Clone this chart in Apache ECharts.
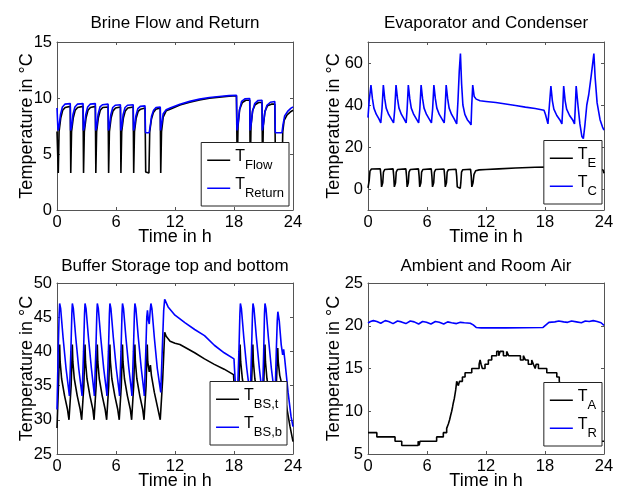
<!DOCTYPE html>
<html><head><meta charset="utf-8">
<script src="https://cdn.jsdelivr.net/npm/echarts@6/dist/echarts.min.js"></script>
<style>html,body{margin:0;padding:0;background:#fff}#c{width:617px;height:492px}</style>
</head><body><div id="c"></div>
<script>
// ---------------- DATA ----------------
const timeTicks = [0, 6, 12, 18, 24];
const plotTitles = ['Brine Flow and Return', 'Evaporator and Condenser', 'Buffer Storage top and bottom', 'Ambient and Room Air'];
const xLabel = 'Time in h';
const yLabel = 'Temperature in °C';
const legendNames = [['Flow', 'Return'], ['E', 'C'], ['BS,t', 'BS,b'], ['A', 'R']];
const condenserTickLabels = [0, 20, 40, 60];

// Brine flow (black) [time h, °C]
const brineFlow = [[0,7.0],[0.13,3.3],[0.21,7.0],[0.38,8.2],[0.58,8.9],[0.83,9.15],[1.35,9.25],
[1.4,3.3],[1.48,7.0],[1.65,8.2],[1.85,8.9],[2.1,9.15],[2.65,9.25],
[2.7,3.3],[2.78,7.0],[2.95,8.2],[3.15,8.9],[3.4,9.15],[3.9,9.25],
[3.95,3.3],[4.03,7.0],[4.2,8.2],[4.4,8.9],[4.65,9.15],[5.2,9.2],
[5.25,3.3],[5.33,7.0],[5.5,8.2],[5.7,8.85],[5.95,9.1],[6.45,9.2],
[6.5,3.3],[6.58,7.0],[6.75,8.2],[6.95,8.85],[7.2,9.1],[7.75,9.2],
[7.8,3.3],[7.88,7.0],[8.05,8.2],[8.25,8.8],[8.5,9.0],[8.95,9.1],
[9.02,3.4],[9.35,3.3],[9.43,7.0],[9.6,8.1],[9.8,8.7],[10.05,9.0],[10.5,9.1],
[10.55,3.3],[10.63,7.0],[10.8,8.3],[11.1,8.85],[11.5,9.0],[12.5,9.38],[13.5,9.63],[14.5,9.83],[15.5,9.98],[16.5,10.08],[17.5,10.15],[18.25,10.2],
[18.33,3.5],[18.41,7.5],[18.58,9.0],[18.85,9.6],[19.2,9.8],[19.6,9.8],
[19.65,3.5],[19.73,7.5],[19.9,8.9],[20.15,9.4],[20.5,9.6],[20.85,9.6],
[20.9,3.5],[20.98,7.5],[21.15,8.8],[21.4,9.3],[21.8,9.45],[22.15,9.45],
[22.22,3.5],[22.88,3.4],[22.96,7.0],[23.1,8.0],[23.4,8.5],[23.8,8.8],[24,8.9]];

// Brine return (blue)
const brineReturn = [[0,9.1],[0.1,7.1],[0.2,7.4],[0.35,8.5],[0.55,9.2],[0.8,9.45],[1.35,9.5],
[1.38,7.1],[1.48,7.4],[1.62,8.5],[1.82,9.2],[2.07,9.45],[2.65,9.5],
[2.68,7.1],[2.78,7.4],[2.92,8.5],[3.12,9.2],[3.37,9.45],[3.9,9.5],
[3.93,7.1],[4.03,7.4],[4.17,8.5],[4.37,9.2],[4.62,9.4],[5.2,9.45],
[5.23,7.1],[5.33,7.4],[5.47,8.5],[5.67,9.15],[5.92,9.35],[6.45,9.4],
[6.48,7.1],[6.58,7.4],[6.72,8.5],[6.92,9.15],[7.17,9.35],[7.75,9.4],
[7.78,7.1],[7.88,7.4],[8.02,8.4],[8.22,9.05],[8.47,9.25],[8.95,9.3],
[9.0,6.9],[9.38,6.9],[9.48,7.5],[9.62,8.4],[9.82,8.9],[10.07,9.15],[10.5,9.2],
[10.53,7.1],[10.63,7.6],[10.8,8.6],[11.1,8.95],[11.5,9.1],[12.5,9.45],[13.5,9.7],[14.5,9.9],[15.5,10.04],[16.5,10.14],[17.5,10.21],[18.25,10.25],
[18.3,7.1],[18.4,7.6],[18.55,8.9],[18.77,9.7],[19.1,9.92],[19.6,9.95],
[19.63,7.1],[19.73,7.6],[19.88,8.8],[20.1,9.5],[20.45,9.78],[20.85,9.8],
[20.88,7.1],[20.98,7.6],[21.13,8.7],[21.35,9.35],[21.7,9.62],[22.15,9.68],
[22.2,6.9],[22.88,6.9],[22.98,7.6],[23.15,8.4],[23.45,8.8],[23.8,9.1],[24,9.2]];

// Evaporator (black)
const evaporator = [[0,0.5],[0.05,0.3],[0.12,4],[0.2,8.5],[0.35,9.5],[1.25,9.6],
[1.32,6],[1.38,1],[1.45,0.3],[1.5,3],[1.57,8],[1.7,9.3],[2.55,9.6],
[2.62,6],[2.68,1],[2.75,0.3],[2.8,3],[2.87,8],[3.0,9.3],[3.85,9.6],
[3.92,6],[3.98,1],[4.05,0.3],[4.1,3],[4.17,8],[4.3,9.3],[5.13,9.6],
[5.2,6],[5.26,1],[5.33,0.3],[5.38,3],[5.45,8],[5.58,9.3],[6.43,9.6],
[6.5,6],[6.56,1],[6.63,0.3],[6.68,3],[6.75,8],[6.88,9.3],[7.73,9.5],
[7.8,6],[7.86,1],[7.93,0.3],[7.98,3],[8.05,8],[8.18,9.2],[8.95,9.4],
[9.02,6],[9.08,1],[9.15,0.3],[9.38,0.3],[9.44,3],[9.51,8],[9.64,9.2],[10.43,9.4],
[10.5,6],[10.56,1],[10.63,0.3],[10.68,3],[10.78,7],[10.95,8.7],[11.3,9.1],[12,9.3],[13.3,9.6],[15,10.0],[17,10.35],[18.2,10.5],
[18.3,6],[18.37,0.5],[18.45,0.3],[18.55,6],[18.7,9.3],[19.5,9.6],
[19.6,6],[19.67,0.5],[19.75,0.3],[19.85,6],[20.0,9.3],[20.8,9.5],
[20.85,6],[20.92,0.5],[21.0,0.3],[21.1,6],[21.25,9.2],[22.1,9.4],
[22.18,6],[22.25,0.3],[22.85,0.3],[22.95,6],[23.1,9],[23.6,9.4],[23.9,9.0],[24,7.5]];

// Condenser (blue)
const condenser = [[0,34],[0.12,42],[0.3,49.5],[0.45,43],[0.6,38.5],[0.85,35.5],[1.1,33.5],[1.3,31.5],
[1.42,38],[1.56,49.5],[1.7,43],[1.85,38.5],[2.1,35.5],[2.35,33.5],[2.6,31.5],
[2.72,38],[2.85,49.5],[3.0,43],[3.15,38.5],[3.4,35.5],[3.65,33.5],[3.88,31.5],
[3.98,38],[4.1,49.5],[4.25,43],[4.4,38.5],[4.65,35.5],[4.9,33.5],[5.15,31.5],
[5.27,38],[5.4,49.5],[5.55,43],[5.7,38.5],[5.95,35.5],[6.2,33.5],[6.45,31.5],
[6.57,38],[6.7,49.5],[6.85,43],[7.0,38.5],[7.25,35.5],[7.5,33.5],[7.75,31.5],
[7.84,38],[7.95,49.5],[8.1,43],[8.25,38.5],[8.5,35.5],[8.75,33.5],[9.02,31],
[9.15,42],[9.28,56],[9.4,64.5],[9.52,50],[9.65,40],[9.85,35.5],[10.1,33],[10.35,31.5],[10.48,30.5],
[10.55,40],[10.65,49.5],[10.8,44],[11.0,42.8],[11.4,42],[12,41.7],[13,41.2],[14,40.5],[15,39.8],[16,39],[17,38.3],[17.9,37.5],
[18.05,35.5],[18.3,31],[18.45,40],[18.6,49],[18.75,42],[18.9,38],[19.2,35],[19.5,33],[19.72,31],
[19.8,38],[19.9,49],[20.05,42],[20.2,38],[20.5,35],[20.8,33],[21.0,31],
[21.07,38],[21.17,49],[21.35,40],[21.55,31],[21.75,25],[21.9,24],[22.05,30],[22.25,40],[22.45,45],[22.7,54],[22.97,64.5],[23.1,53],[23.3,41],[23.6,33],[23.85,29.5],[24,28]];

// Buffer storage top (black)
const bufferTop = [[0,28.8],[0.15,35],[0.27,41],[0.32,38.5],[0.47,36],[0.77,33.5],[1.07,31.5],[1.22,30],
[1.26,30],[1.44,35],[1.56,41],[1.61,38.5],[1.76,36],[2.06,33.5],[2.36,31.5],[2.51,30],
[2.55,30],[2.73,35],[2.85,41],[2.9,38.5],[3.05,36],[3.35,33.5],[3.65,31.5],[3.77,30],
[3.8,30],[3.98,35],[4.1,41],[4.15,38.5],[4.3,36],[4.6,33.5],[4.9,31.5],[5.05,30],
[5.08,30],[5.26,35],[5.38,41],[5.43,38.5],[5.58,36],[5.88,33.5],[6.18,31.5],[6.33,30],
[6.36,30],[6.54,35],[6.66,41],[6.71,38.5],[6.86,36],[7.16,33.5],[7.46,31.5],[7.59,30],
[7.62,30],[7.8,35],[7.92,41],[7.97,38.5],[8.12,36],[8.42,33.5],[8.72,31.5],[8.85,30],
[8.88,30],[9.06,35],[9.18,41],[9.23,38.5],[9.38,37],[9.5,38],[9.6,36.5],[9.9,34],[10.2,32],[10.5,30],[10.6,30],
[10.75,36],[10.95,42.8],[11.1,42.2],[11.5,41.5],[12,41.2],[12.5,41.0],[13,40.6],[14,39.8],[15,38.9],[16,38.1],[17,37.4],[17.95,36.6],
[18.1,33],[18.35,30.5],[18.5,35],[18.62,41],[18.68,38.5],[18.85,36],[19.15,33.5],[19.45,31.5],[19.63,30],
[19.78,35],[19.92,41],[19.97,38.5],[20.12,36],[20.42,33.5],[20.72,31.5],[20.88,30],
[21.02,35],[21.15,41],[21.2,38.5],[21.35,36],[21.65,33.5],[21.95,31.5],[22.15,30],
[22.3,35],[22.45,40.5],[22.5,38.5],[22.65,36.5],[22.9,35],[23.1,34],[23.4,31.5],[23.7,29],[24,26.8]];

// Buffer storage bottom (blue)
const bufferBottom = [[0,31.5],[0.12,40],[0.22,45.5],[0.27,47],[0.37,46.3],[0.62,42],[0.92,37.5],[1.22,34],
[1.26,33.5],[1.41,40],[1.51,45.5],[1.56,47],[1.66,46.3],[1.91,42],[2.21,37.5],[2.51,34],
[2.55,33.5],[2.7,40],[2.8,45.5],[2.85,47],[2.95,46.3],[3.2,42],[3.5,37.5],[3.77,34],
[3.8,33.5],[3.95,40],[4.05,45.5],[4.1,47],[4.2,46.3],[4.45,42],[4.75,37.5],[5.05,34],
[5.08,33.5],[5.23,40],[5.33,45.5],[5.38,47],[5.48,46.3],[5.73,42],[6.03,37.5],[6.33,34],
[6.36,33.5],[6.51,40],[6.61,45.5],[6.66,47],[6.76,46.3],[7.01,42],[7.31,37.5],[7.59,34],
[7.62,33.5],[7.77,40],[7.87,45.5],[7.92,47],[8.02,46.3],[8.27,42],[8.57,37.5],[8.85,34],
[8.88,33.5],[9.03,40],[9.13,45],[9.2,46],[9.3,44.5],[9.38,44],[9.48,46],[9.55,47],[9.65,46.3],[9.9,42],[10.2,37.5],[10.55,34],[10.62,33.8],
[10.7,40],[10.85,46],[10.95,47.6],[11.05,47.5],[11.3,46.5],[12,45.3],[13,44.2],[14,43.2],[15,42.3],[16,40.9],[17,39.8],[18,38.9],
[18.05,37.5],[18.15,35],[18.35,33.5],[18.5,40],[18.6,45.5],[18.65,47],[18.75,46.3],[19.0,42],[19.3,37.5],[19.6,34],
[19.65,33.5],[19.78,40],[19.88,45.5],[19.93,47],[20.03,46.3],[20.28,42],[20.58,37.5],[20.85,34],
[20.9,33.5],[21.02,40],[21.1,45.5],[21.15,47],[21.25,46.3],[21.5,42],[21.8,37.5],[22.1,34],
[22.18,33.5],[22.3,40],[22.4,44.5],[22.46,45.8],[22.6,44.5],[22.8,41],[22.95,39.5],[23.05,40.3],[23.15,39],[23.5,34],[23.8,30.5],[24,29]];

// Ambient air (black, stepwise)
const ambientAir = [[0,7.5],[0.9,7.0],[2.75,6.5],[3.43,6.0],[5.1,6.5],[5.2,6.0],[5.29,6.5],[6.98,7.0],[7.66,7.5],[8.0,8.0],[8.17,8.5],[8.3,9.0],[8.4,9.5],[8.51,10.0],[8.6,10.5],[8.68,11.0],[8.78,11.5],[8.85,12.0],[8.92,12.5],[8.97,13.0],[9.02,13.5],[9.19,13.0],[9.3,13.5],[9.6,14.0],[9.87,14.5],[10.55,15.0],[11.3,15.5],[11.4,16.0],[11.5,15.5],[11.63,15.0],[11.9,15.5],[12.24,16.0],[12.58,16.5],[13.09,17.0],[13.3,16.5],[13.43,17.0],[13.77,16.5],[14.1,17.0],[14.3,16.5],[15.5,16.0],[15.8,16.5],[16.0,16.0],[16.3,15.5],[16.65,16.0],[16.82,15.5],[17.0,15.0],[17.1,15.5],[17.33,15.0],[18.18,14.5],[19.2,14.0],[19.45,13.5],[19.6,13.0],[20.2,12.0],[21.0,10.5],[22.0,8.5],[22.8,7.0],[23.3,6.5],[24,6.5]];

// Room air (blue)
const roomAir = [[0,20.3],[0.25,20.5],[0.55,20.6],[0.9,20.5],[1.3,20.3],[1.5,20.4],[1.75,20.6],[2.1,20.5],[2.55,20.25],[2.75,20.35],[3.0,20.55],[3.4,20.45],[3.85,20.25],[4.05,20.35],[4.3,20.55],[4.7,20.45],[5.15,20.2],[5.3,20.3],[5.55,20.5],[5.95,20.4],[6.4,20.2],[6.6,20.3],[6.85,20.5],[7.25,20.4],[7.7,20.2],[7.85,20.3],[8.1,20.45],[8.5,20.35],[9.0,20.25],[9.4,20.4],[9.8,20.35],[10.4,20.3],[10.7,20.1],[11.0,19.8],[11.5,19.75],[14,19.75],[17.8,19.8],[18.1,20.1],[18.4,20.4],[19.0,20.45],[19.4,20.55],[19.9,20.45],[20.3,20.4],[20.7,20.55],[21.2,20.45],[21.7,20.35],[22.1,20.55],[22.5,20.5],[22.9,20.6],[23.3,20.5],[23.7,20.35],[24,20.05]];

// ---------------- CHART ----------------
const FONT = '"Liberation Sans", Arial, Helvetica, sans-serif';
const AXC = '#555';
const gridBoxes = [
  {left: 57, top: 42, width: 236, height: 168},
  {left: 368, top: 42, width: 236, height: 168},
  {left: 57, top: 283, width: 236, height: 171},
  {left: 368, top: 283, width: 236, height: 171}
];
const yRanges = [
  {min: 0, max: 15, interval: 5},
  {min: -10, max: 70, interval: 10},
  {min: 25, max: 50, interval: 5},
  {min: 5, max: 25, interval: 5}
];
const legendPos = [
  {right: 328, bottom: 286},
  {right: 15, bottom: 288},
  {right: 330, bottom: 47},
  {right: 15, bottom: 46}
];
const titlePos = [[175, 23], [486, 23], [175, 266], [486, 266]];
const yNameGap = [21, 25, 21, 25];
const xNameGap = [18, 18, 18, 18];

const xAxes = [], yAxes = [];
gridBoxes.forEach((g, i) => {
  xAxes.push({
    type: 'value', gridIndex: i, position: 'bottom', min: 0, max: 24, interval: 6,
    axisLine: {show: true, onZero: false, lineStyle: {color: AXC, width: 1}},
    axisTick: {show: true, inside: true, length: 3, lineStyle: {color: AXC}},
    splitLine: {show: false},
    axisLabel: {color: '#000', fontSize: 16.5, fontFamily: FONT, margin: 4, showMinLabel: true, showMaxLabel: true},
    name: xLabel, nameLocation: 'middle', nameGap: xNameGap[i], nameMoveOverlap: false,
    nameTextStyle: {color: '#000', fontSize: 18, fontFamily: FONT}
  });
  const yr = yRanges[i];
  const ya = {
    type: 'value', gridIndex: i, position: 'left', min: yr.min, max: yr.max, interval: yr.interval,
    axisLine: {show: true, onZero: false, lineStyle: {color: AXC, width: 1}},
    axisTick: {show: true, inside: true, length: 3, lineStyle: {color: AXC}},
    splitLine: {show: false},
    axisLabel: {color: '#000', fontSize: 16.5, fontFamily: FONT, margin: 5, showMinLabel: true, showMaxLabel: true},
    name: yLabel, nameLocation: 'middle', nameGap: yNameGap[i], nameMoveOverlap: false,
    nameTextStyle: {color: '#000', fontSize: 18, fontFamily: FONT}
  };
  if (i === 1) {
    ya.axisLabel.customValues = condenserTickLabels;
    ya.axisLabel.formatter = v => (condenserTickLabels.indexOf(v) >= 0 ? String(v) : '');
    ya.axisTick.customValues = condenserTickLabels;
  }
  yAxes.push(ya);
});
gridBoxes.forEach((g, i) => {
  xAxes.push({
    type: 'value', gridIndex: i, position: 'top', min: 0, max: 24, interval: 6,
    axisLine: {show: true, onZero: false, lineStyle: {color: AXC, width: 1}},
    axisTick: {show: true, inside: true, length: 3, lineStyle: {color: AXC}},
    axisLabel: {show: false}, splitLine: {show: false}
  });
  const yr = yRanges[i];
  const ya = {
    type: 'value', gridIndex: i, position: 'right', min: yr.min, max: yr.max, interval: yr.interval,
    axisLine: {show: true, onZero: false, lineStyle: {color: AXC, width: 1}},
    axisTick: {show: true, inside: true, length: 3, lineStyle: {color: AXC}},
    axisLabel: {show: false}, splitLine: {show: false}
  };
  if (i === 1) ya.axisTick.customValues = condenserTickLabels;
  yAxes.push(ya);
});

function mkSeries(name, data, idx, color, step) {
  return {
    type: 'line', name: name, data: data, xAxisIndex: idx, yAxisIndex: idx,
    symbol: 'none', showSymbol: false, step: step || false, silent: true,
    lineStyle: {color: color, width: 1.6}, itemStyle: {color: color},
    animation: false, z: 2
  };
}
const series = [
  mkSeries(legendNames[0][0], brineFlow, 0, '#000000'),
  mkSeries(legendNames[0][1], brineReturn, 0, '#0000ff'),
  mkSeries(legendNames[1][0], evaporator, 1, '#000000'),
  mkSeries(legendNames[1][1], condenser, 1, '#0000ff'),
  mkSeries(legendNames[2][0], bufferTop, 2, '#000000'),
  mkSeries(legendNames[2][1], bufferBottom, 2, '#0000ff'),
  mkSeries(legendNames[3][0], ambientAir, 3, '#000000', 'end'),
  mkSeries(legendNames[3][1], roomAir, 3, '#0000ff')
];

const legends = legendNames.map((names, i) => Object.assign({
  data: names, orient: 'vertical', icon: 'rect', itemWidth: 23, itemHeight: 1.5, itemGap: 4.5,
  padding: [6, 5, 6, 6], backgroundColor: '#fff', borderColor: '#222', borderWidth: 1, borderRadius: 0,
  selectedMode: false, z: 10,
  formatter: n => '{m|T}{s|' + n + '}',
  textStyle: {color: '#000', fontFamily: FONT,
    rich: {
      m: {fontSize: 16, fontFamily: FONT, color: '#000', padding: [0, 0, 7.5, 0], verticalAlign: 'bottom'},
      s: {fontSize: 13, fontFamily: FONT, color: '#000', verticalAlign: 'bottom'}
    }}
}, legendPos[i]));

const graphics = plotTitles.map((t, i) => ({
  type: 'text', x: titlePos[i][0], y: titlePos[i][1], silent: true,
  style: {text: t, fontSize: 17, fontFamily: FONT, fill: '#000', align: 'center', verticalAlign: 'middle',
          textAlign: 'center', textVerticalAlign: 'middle'}
}));

const chart = echarts.init(document.getElementById('c'), null, {renderer: 'canvas'});
chart.setOption({
  backgroundColor: '#fff',
  animation: false,
  grid: gridBoxes.map(g => Object.assign({containLabel: false, outerBoundsMode: 'none', show: false}, g)),
  xAxis: xAxes,
  yAxis: yAxes,
  legend: legends,
  series: series,
  graphic: graphics
});
</script>
</body></html>
